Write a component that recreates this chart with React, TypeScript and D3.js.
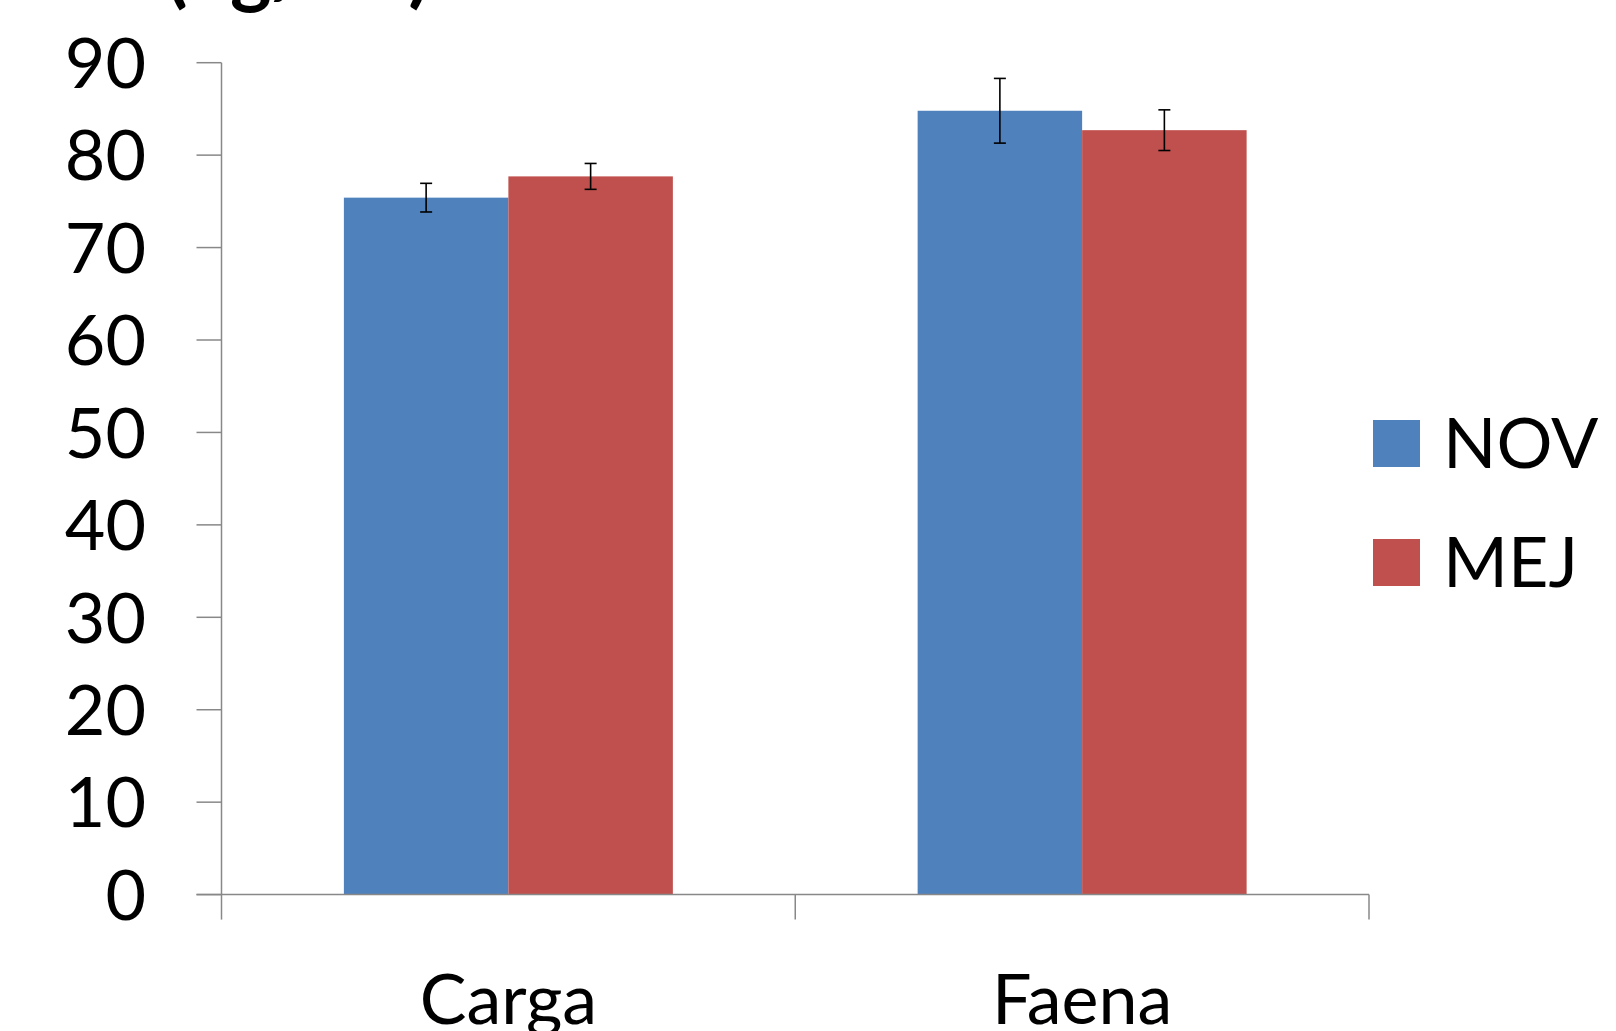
import React from "react";
import * as d3 from "d3";

const categories = ["Carga", "Faena"];
const seriesNames = ["NOV", "MEJ"];
const novValues = [75.4, 84.8];
const mejValues = [77.7, 82.7];
const novErrors = [1.55, 3.5];
const mejErrors = [1.4, 2.2];
const yTicks = [0, 10, 20, 30, 40, 50, 60, 70, 80, 90];
const titleText = "(kg/día)";

const colors = ["#4F81BD", "#C0504D"];
const FONT = "Lato, 'Open Sans', sans-serif";

export default function App() {
  const W = 1616, H = 1031;
  const left = 221.5, right = 1369, top = 62.7, bottom = 894.6;
  const y = d3.scaleLinear().domain([0, 90]).range([bottom, top]);
  const x0 = d3.scaleBand().domain(categories).range([left, right]).paddingInner(0).paddingOuter(0);
  const x1 = d3.scaleBand().domain(seriesNames).range([0, x0.bandwidth()]).paddingInner(0).paddingOuter(0.744);
  const values = [novValues, mejValues];
  const errors = [novErrors, mejErrors];
  const axisColor = "#888888";
  const catEdges = [left, ...categories.map((c) => (x0(c) as number) + x0.bandwidth())];

  return (
    <svg width={W} height={H} style={{ position: "absolute", left: 0, top: 0, background: "#fff" }}>
      <text x={166} y={-2} fontFamily={FONT} fontWeight="bold" fontSize={79} fill="#000">{titleText}</text>
      {/* bars */}
      {seriesNames.map((s, si) =>
        categories.map((c, ci) => {
          const bx = (x0(c) as number) + (x1(s) as number);
          const v = values[si][ci];
          return (
            <rect key={s + c} x={bx} y={y(v)} width={x1.bandwidth()} height={y(0) - y(v)} fill={colors[si]} />
          );
        })
      )}
      {/* error bars */}
      {seriesNames.map((s, si) =>
        categories.map((c, ci) => {
          const cx = (x0(c) as number) + (x1(s) as number) + x1.bandwidth() / 2;
          const v = values[si][ci];
          const e = errors[si][ci];
          return (
            <g key={"e" + s + c} stroke="#000" strokeWidth={1.6}>
              <line x1={cx} x2={cx} y1={y(v + e)} y2={y(v - e)} />
              <line x1={cx - 6} x2={cx + 6} y1={y(v + e)} y2={y(v + e)} />
              <line x1={cx - 6} x2={cx + 6} y1={y(v - e)} y2={y(v - e)} />
            </g>
          );
        })
      )}
      {/* y axis */}
      <line x1={left} x2={left} y1={top} y2={bottom} stroke={axisColor} strokeWidth={1.5} />
      {yTicks.map((t) => (
        <g key={t}>
          <line x1={left - 25} x2={left} y1={y(t)} y2={y(t)} stroke={axisColor} strokeWidth={1.5} />
          <text x={146} y={y(t)} dy="0.36em" textAnchor="end" fontFamily={FONT} fontSize={70} fill="#000">{t}</text>
        </g>
      ))}
      {/* x axis */}
      <line x1={left - 25} x2={right} y1={bottom} y2={bottom} stroke={axisColor} strokeWidth={1.5} />
      {catEdges.map((ex, i) => (
        <line key={i} x1={ex} x2={ex} y1={bottom} y2={bottom + 25} stroke={axisColor} strokeWidth={1.5} />
      ))}
      {categories.map((c) => (
        <text key={c} x={(x0(c) as number) + x0.bandwidth() / 2} y={1024} textAnchor="middle" fontFamily={FONT} fontSize={70} fill="#000">{c}</text>
      ))}
      {/* legend */}
      {seriesNames.map((s, si) => (
        <g key={"l" + s}>
          <rect x={1373} y={420 + si * 119} width={47} height={47} fill={colors[si]} />
          <text x={1443} y={468 + si * 119} fontFamily={FONT} fontSize={70} fill="#000">{s}</text>
        </g>
      ))}
    </svg>
  );
}
